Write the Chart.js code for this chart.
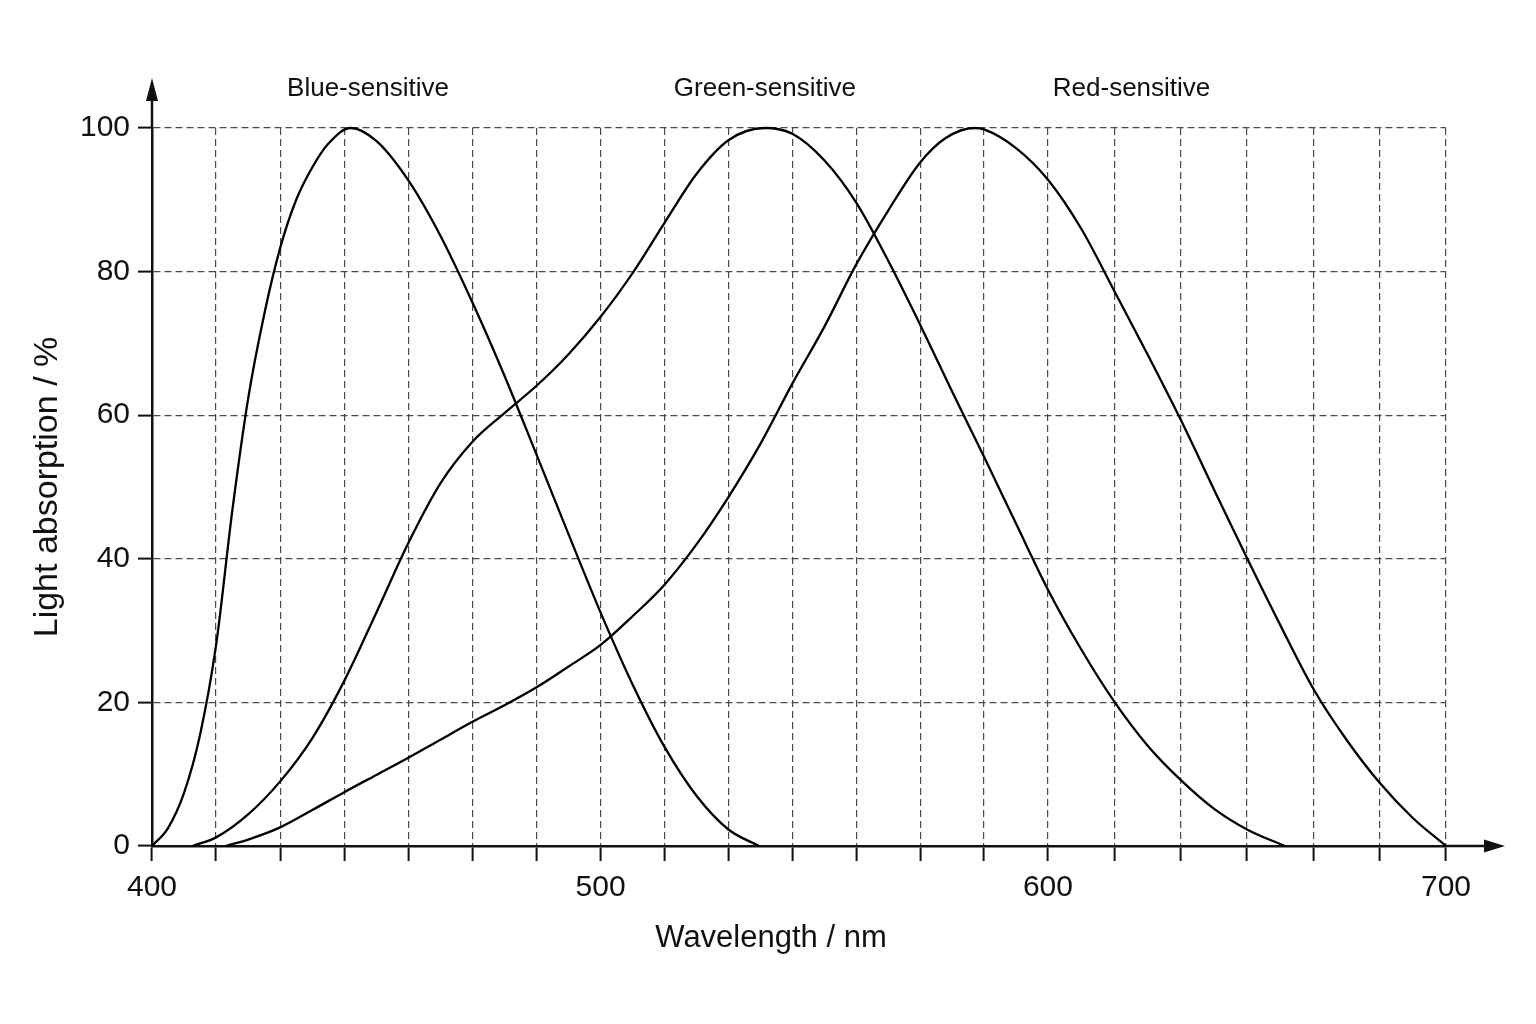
<!DOCTYPE html>
<html>
<head>
<meta charset="utf-8">
<script src="https://cdn.jsdelivr.net/npm/chart.js@4"></script>
<style>
  html, body { margin: 0; padding: 0; background: #fff; }
  #wrap { width: 1536px; height: 1024px; }
</style>
</head>
<body>
<div id="wrap"><canvas id="coneChart" width="1536" height="1024"></canvas></div>
<script>
// positions along the wavelength axis, in grid steps (20 steps from 400 to 700)
const tickPositions = [0, 7, 14, 20];
const tickLabels = ["400", "500", "600", "700"];
const absorptionTicks = [0, 20, 40, 60, 80, 100];

const curveNames = ["Blue-sensitive", "Green-sensitive", "Red-sensitive"];

// blue-sensitive cone
const bluePos = [0, 0.25, 0.5, 0.75, 1, 1.25, 1.5, 1.75, 2, 2.25, 2.5, 2.75, 3.1, 3.5, 4, 4.5, 5, 5.5, 6, 6.5, 7, 7.5, 8, 8.5, 9, 9.48];
const blueAbs = [0, 2.5, 7.4, 15.5, 28, 46.5, 62.3, 74, 83.3, 90, 94.5, 97.8, 100, 98.2, 92.7, 85, 75.7, 65.5, 54.5, 43.4, 32.5, 22.5, 13.8, 7, 2.3, 0];

// green-sensitive cone
const greenPos = [0.63, 1, 1.5, 2, 2.5, 3, 3.5, 4, 4.5, 5, 5.5, 6, 6.5, 7, 7.5, 8, 8.5, 9, 9.57, 10, 10.5, 11, 11.5, 12, 12.5, 13, 13.5, 14, 14.5, 15, 15.5, 16, 16.5, 17, 17.57];
const greenAbs = [0, 1.2, 4.4, 9, 15, 23, 32.5, 42.2, 50.5, 56.3, 60.3, 64.1, 68.5, 73.7, 79.8, 86.8, 93.6, 98.3, 100, 99.2, 95.5, 89.6, 81.5, 72.6, 63.3, 54.2, 44.9, 35.7, 27.4, 20.1, 14, 9.2, 5.2, 2.3, 0];

// red-sensitive cone
const redPos = [1.15, 1.5, 2, 2.5, 3, 3.5, 4, 4.5, 5, 5.5, 6, 6.5, 7, 7.5, 8, 8.5, 9, 9.5, 10, 10.5, 11, 11.5, 12, 12.4, 12.85, 13, 13.5, 14, 14.5, 15, 15.5, 16, 16.5, 17, 17.5, 18, 18.5, 19, 19.5, 20];
const redAbs = [0, 0.9, 2.6, 5, 7.5, 9.9, 12.3, 14.8, 17.3, 19.6, 22.1, 25, 28, 32, 36.4, 42, 48.6, 56, 64.4, 72.3, 81, 88.5, 95.2, 98.6, 100, 99.8, 97.2, 92.8, 86, 77.3, 68.5, 59.4, 49.7, 40.1, 30.8, 21.9, 14.8, 8.8, 3.9, 0];

const FONT = "'Liberation Sans', Arial, Helvetica, sans-serif";
const INK = "#111";

// the printed grid is not even: the 600-700 stretch is narrower than the others,
// so the axis runs piecewise through the labelled ticks
const SECTION_SHARE = [0, 0.3467, 0.6924, 1];

class SteppedScale extends Chart.LinearScale {
  static id = "stepped";
  static defaults = Chart.LinearScale.defaults;

  toShare(value) {
    const k = tickPositions;
    let i = 1;
    while (i < k.length - 1 && value > k[i]) i++;
    const t = (value - k[i - 1]) / (k[i] - k[i - 1]);
    return SECTION_SHARE[i - 1] + t * (SECTION_SHARE[i] - SECTION_SHARE[i - 1]);
  }

  getPixelForValue(value) {
    return this.left + this.toShare(value) * this.width;
  }

  getValueForPixel(pixel) {
    const s = (pixel - this.left) / this.width;
    let i = 1;
    while (i < SECTION_SHARE.length - 1 && s > SECTION_SHARE[i]) i++;
    const t = (s - SECTION_SHARE[i - 1]) / (SECTION_SHARE[i] - SECTION_SHARE[i - 1]);
    return tickPositions[i - 1] + t * (tickPositions[i] - tickPositions[i - 1]);
  }
}
Chart.register(SteppedScale);

function points(xs, ys) {
  return xs.map((x, i) => ({ x, y: ys[i] }));
}

function curve(label, xs, ys) {
  return {
    label,
    data: points(xs, ys),
    borderColor: "#000",
    borderWidth: 2.3,
    pointRadius: 0,
    fill: false,
    cubicInterpolationMode: "monotone",
    clip: false
  };
}

// axis arrows, x title and curve names
const decorations = {
  id: "decorations",
  afterDraw(chart, args, opts) {
    const { ctx, chartArea: a, scales } = chart;
    ctx.save();
    ctx.strokeStyle = INK;
    ctx.fillStyle = INK;
    ctx.lineWidth = 2.5;

    // y axis extension + arrow
    ctx.beginPath();
    ctx.moveTo(a.left, a.top);
    ctx.lineTo(a.left, a.top - 30);
    ctx.stroke();
    ctx.beginPath();
    ctx.moveTo(a.left, a.top - 50);
    ctx.lineTo(a.left - 6, a.top - 27);
    ctx.lineTo(a.left + 6, a.top - 27);
    ctx.closePath();
    ctx.fill();

    // x axis extension + arrow
    ctx.beginPath();
    ctx.moveTo(a.right, a.bottom);
    ctx.lineTo(a.right + 42, a.bottom);
    ctx.stroke();
    ctx.beginPath();
    ctx.moveTo(a.right + 59, a.bottom);
    ctx.lineTo(a.right + 38, a.bottom - 6.5);
    ctx.lineTo(a.right + 38, a.bottom + 6.5);
    ctx.closePath();
    ctx.fill();

    // x title
    ctx.font = "31px " + FONT;
    ctx.textAlign = "center";
    ctx.textBaseline = "middle";
    ctx.fillText("Wavelength / nm", opts.titleX, opts.titleY);

    // curve names above the plot
    ctx.font = "26px " + FONT;
    curveNames.forEach((name, i) => {
      const x = scales.x.getPixelForValue(opts.namePos[i]);
      ctx.fillText(name, x, opts.nameY);
    });
    ctx.restore();
  }
};

const ctx = document.getElementById("coneChart").getContext("2d");

new Chart(ctx, {
  type: "line",
  data: {
    datasets: [
      curve(curveNames[0], bluePos, blueAbs),
      curve(curveNames[1], greenPos, greenAbs),
      curve(curveNames[2], redPos, redAbs)
    ]
  },
  options: {
    responsive: false,
    animation: false,
    devicePixelRatio: 1,
    layout: { padding: { top: 128, right: 90, bottom: 0, left: 0 } },
    plugins: {
      legend: { display: false },
      tooltip: { enabled: false },
      decorations: { titleX: 771, titleY: 938, nameY: 89, namePos: [3.37, 9.57, 15.26] }
    },
    scales: {
      x: {
        type: "stepped",
        min: 0,
        max: 20,
        afterFit(scale) { scale.height = 178; },
        afterBuildTicks(scale) {
          scale.ticks = Array.from({ length: 21 }, (_, i) => ({ value: i }));
        },
        ticks: {
          autoSkip: false,
          maxRotation: 0,
          padding: 9,
          color: INK,
          font: { family: FONT, size: 30 },
          callback(value) {
            const k = tickPositions.indexOf(value);
            return k >= 0 ? tickLabels[k] : "";
          }
        },
        grid: {
          color: "#4a4a4a",
          lineWidth: 1.2,
          tickColor: INK,
          tickWidth: 2,
          tickLength: 15,
          tickBorderDash: []
        },
        border: { display: true, color: INK, width: 2.5, dash: [7, 4] }
      },
      y: {
        min: 0,
        max: 100,
        afterFit(scale) { scale.width = 152; },
        afterBuildTicks(scale) {
          scale.ticks = absorptionTicks.map(v => ({ value: v }));
        },
        ticks: {
          padding: 8,
          color: INK,
          font: { family: FONT, size: 30 }
        },
        grid: {
          color: "#4a4a4a",
          lineWidth: 1.2,
          tickColor: INK,
          tickWidth: 2,
          tickLength: 14,
          tickBorderDash: []
        },
        border: { display: true, color: INK, width: 2.5, dash: [7, 4] },
        title: {
          display: true,
          text: "Light absorption / %",
          color: INK,
          font: { family: FONT, size: 34 },
          padding: { top: 27, bottom: 0 }
        }
      }
    }
  },
  plugins: [decorations]
});
</script>
</body>
</html>
